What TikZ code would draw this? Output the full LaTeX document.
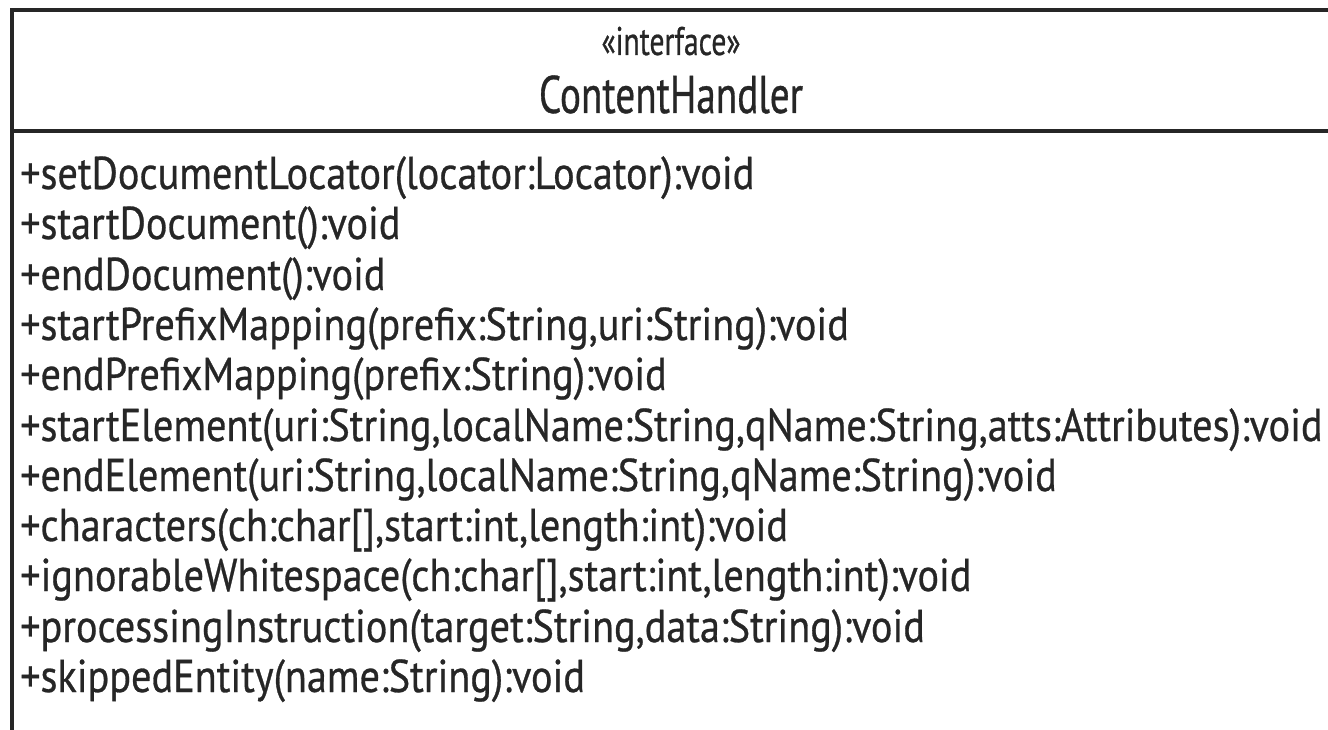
\documentclass[tikz,border=0pt]{standalone}
\usepackage{fontspec}
\setmainfont{PT Sans}[FakeStretch=0.875,FakeBold=0.6]
\newfontfamily\headfont{PT Sans}[FakeStretch=0.74,FakeBold=0.6]
\begin{document}
\begin{tikzpicture}[x=1pt,y=-1pt,
  frame/.style={draw=black!85,line width=4pt},
  member/.style={anchor=base west,inner sep=0pt,text=black!85,font=\fontsize{46}{50}\selectfont},
  stereo/.style={anchor=base,inner sep=0pt,text=black!85,font=\headfont\fontsize{40}{44}\selectfont},
  classname/.style={anchor=base,inner sep=0pt,text=black!85,font=\headfont\fontsize{53}{58}\selectfont}]
\useasboundingbox (0,0) rectangle (1328,730);
% class box and compartment divider
\draw[frame] (12,10.5) rectangle (1330,731.5);
\draw[frame] (12,131) -- (1330,131);
% header
\node[stereo]    (st)  at (671,55)  {«interface»};
\node[classname] (cls) at (671,113) {ContentHandler};
% operations
\node[member] (m1)  at (20,189) {+setDocumentLocator(locator:Locator):void};
\node[member] (m2)  at (20,239) {+startDocument():void};
\node[member] (m3)  at (20,290) {+endDocument():void};
\node[member] (m4)  at (20,340) {+startPrefixMapping(prefix:String,uri:String):void};
\node[member] (m5)  at (20,390) {+endPrefixMapping(prefix:String):void};
\node[member] (m6)  at (20,441) {+startElement(uri:String,localName:String,qName:String,atts:Attributes):void};
\node[member] (m7)  at (20,491) {+endElement(uri:String,localName:String,qName:String):void};
\node[member] (m8)  at (20,541) {+characters(ch:char[],start:int,length:int):void};
\node[member] (m9)  at (20,591) {+ignorableWhitespace(ch:char[],start:int,length:int):void};
\node[member] (m10) at (20,642) {+processingInstruction(target:String,data:String):void};
\node[member] (m11) at (20,692) {+skippedEntity(name:String):void};
\end{tikzpicture}
\end{document}
